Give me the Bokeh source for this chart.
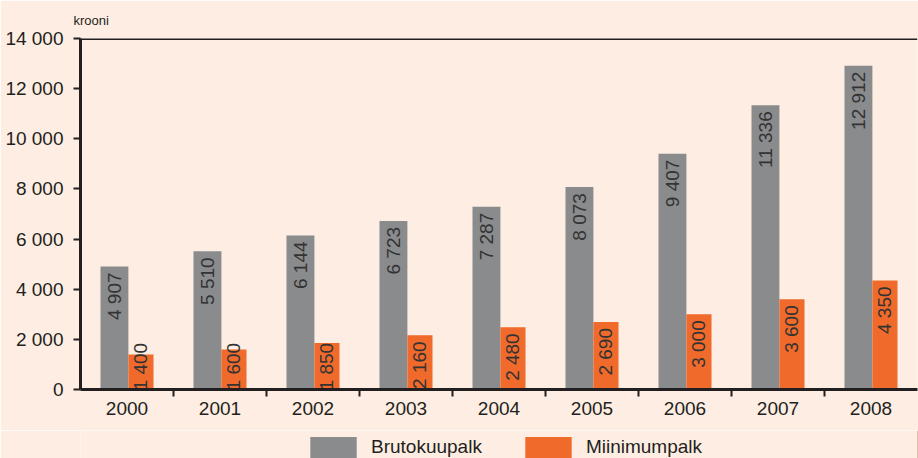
import numpy as np
from bokeh.plotting import figure
from bokeh.layouts import column
from bokeh.models import (ColumnDataSource, Range1d, FixedTicker, CustomJSTickFormatter,
                          Span, Legend, LegendItem, Title)
from bokeh.transform import dodge
from bokeh.core.properties import value
from bokeh.embed import file_html
from bokeh.resources import INLINE

years = ["2000", "2001", "2002", "2003", "2004", "2005", "2006", "2007", "2008"]
gross = [4907, 5510, 6144, 6723, 7287, 8073, 9407, 11336, 12912]
minimum = [1400, 1600, 1850, 2160, 2480, 2690, 3000, 3600, 4350]
series_names = ["Brutokuupalk", "Miinimumpalk"]
unit_label = "krooni"

BG = "#fdede2"
GRAY = "#8a8b8d"
ORANGE = "#ef6a2b"
INK = "#231f20"
FONT = "Liberation Sans"

def fmt(v):
    return f"{v:,}".replace(",", " ")

xs = np.arange(len(years)) + 0.5
src = ColumnDataSource(dict(
    x=xs,
    gross=gross,
    minimum=minimum,
    gross_lbl=[fmt(v) for v in gross],
    min_lbl=[fmt(v) for v in minimum],
    min_pos=[max(v, 2100) for v in minimum],
))

p = figure(width=918, height=430, output_backend="svg", toolbar_location=None,
           x_range=Range1d(0, len(years)), y_range=Range1d(0, 14000),
           min_border_left=80, min_border_right=1, min_border_top=38, min_border_bottom=41)
p.background_fill_color = BG
p.border_fill_color = BG
p.outline_line_color = None
p.grid.grid_line_color = None

p.vbar(x=dodge("x", -0.135, range=p.x_range), top="gross", width=0.30, source=src,
       fill_color=GRAY, line_color=None)
p.vbar(x=dodge("x", 0.15, range=p.x_range), top="minimum", width=0.27, source=src,
       fill_color=ORANGE, line_color=None)

p.text(x=dodge("x", -0.135, range=p.x_range), y="gross", text="gross_lbl", source=src,
       angle=np.pi / 2, text_align="right", text_baseline="middle", y_offset=6,
       text_font=value(FONT), text_font_size="19px", text_color="#333333")
p.text(x=dodge("x", 0.15, range=p.x_range), y="min_pos", text="min_lbl", source=src,
       angle=np.pi / 2, text_align="right", text_baseline="middle", y_offset=6,
       text_font=value(FONT), text_font_size="19px", text_color="#333333")

# top frame line
p.add_layout(Span(location=14000, dimension="width", line_color=INK, line_width=3))

# x axis
xa = p.xaxis[0]
xa.ticker = FixedTicker(ticks=list(xs), minor_ticks=list(range(1, len(years))))
xa.formatter = CustomJSTickFormatter(args=dict(years=years),
                                     code="return years[Math.floor(tick)];")
xa.axis_line_color = INK
xa.axis_line_width = 3
xa.major_tick_line_color = None
xa.major_tick_out = 0
xa.major_tick_in = 0
xa.minor_tick_line_color = INK
xa.minor_tick_line_width = 2
xa.minor_tick_out = 7
xa.minor_tick_in = 0
xa.major_label_standoff = 5
xa.major_label_text_font = FONT
xa.major_label_text_font_size = "19px"
xa.major_label_text_color = INK

# y axis
ya = p.yaxis[0]
ya.ticker = FixedTicker(ticks=list(range(0, 14001, 2000)))
ya.formatter = CustomJSTickFormatter(code="return tick.toString().replace(/\\B(?=(\\d{3})+(?!\\d))/g, ' ');")
ya.axis_line_color = INK
ya.axis_line_width = 3
ya.major_tick_line_color = INK
ya.major_tick_line_width = 2
ya.major_tick_out = 7
ya.major_tick_in = 0
ya.minor_tick_line_color = None
ya.major_label_standoff = 10
ya.major_label_text_font = FONT
ya.major_label_text_font_size = "19px"
ya.major_label_text_color = INK

p.add_layout(Title(text=unit_label, align="left", offset=-7, standoff=21,
                   text_font=FONT, text_font_size="13px", text_font_style="normal",
                   text_color=INK), "above")

# legend strip below the chart (swatch renderers sit outside the visible range)
lf = figure(width=918, height=28, output_backend="svg", toolbar_location=None,
            x_axis_type=None, y_axis_type=None,
            x_range=Range1d(0, 1), y_range=Range1d(0, 1),
            min_border_left=80, min_border_right=1, min_border_top=0, min_border_bottom=0)
lf.background_fill_color = BG
lf.border_fill_color = BG
lf.outline_line_color = None
lf.grid.grid_line_color = None
rg = lf.vbar(x=[10], top=[1], width=0.1, fill_color=GRAY, line_color=None)
ro = lf.vbar(x=[10], top=[1], width=0.1, fill_color=ORANGE, line_color=None)
legend = Legend(items=[LegendItem(label=series_names[0], renderers=[rg]),
                       LegendItem(label=series_names[1], renderers=[ro])],
                location=(224, -2), orientation="horizontal",
                glyph_width=58, glyph_height=26, label_height=26, label_standoff=9,
                spacing=37, padding=0, margin=0,
                border_line_color=None, background_fill_alpha=0,
                label_text_font=FONT, label_text_font_size="19px", label_text_color=INK)
lf.add_layout(legend, "center")

open("out.html", "w").write(file_html(column(p, lf, spacing=0), INLINE))
